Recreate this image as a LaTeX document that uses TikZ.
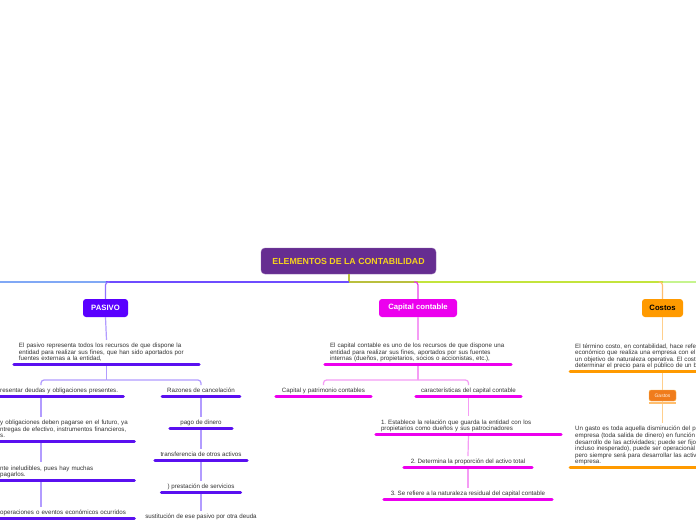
\documentclass[tikz,border=0pt]{standalone}
\usepackage{fontspec}
\setmainfont{Liberation Sans}
\usepackage{tikz}
\usetikzlibrary{calc}

\definecolor{rootfill}{HTML}{662D91}
\definecolor{rootink}{HTML}{F5D21E}
\definecolor{pasfill}{HTML}{5A00FF}
\definecolor{pasbar}{HTML}{5A10F0}
\definecolor{paslink}{HTML}{B29CFF}
\definecolor{pasdrop}{HTML}{9070FF}
\definecolor{capfill}{HTML}{EC00EE}
\definecolor{caplink}{HTML}{F59CF5}
\definecolor{capdrop}{HTML}{E83CE8}
\definecolor{cosfill}{HTML}{FF9A00}
\definecolor{coslink}{HTML}{FFCF8C}
\definecolor{cosdrop}{HTML}{FFBE6E}
\definecolor{gasfill}{HTML}{F07C1C}
\definecolor{trunkblue}{HTML}{80A8F5}
\definecolor{trunkviolet}{HTML}{6E4CFF}
\definecolor{trunkolive}{HTML}{B9BF3E}
\definecolor{trunklime}{HTML}{C3E43C}
\definecolor{trunkgreen}{HTML}{C6F48E}

\newcommand\itemfont{\fontsize{6.2}{6.6}\selectfont}
\frenchspacing

\begin{document}
\begin{tikzpicture}[x=1pt,y=-1pt,
  topic/.style={rectangle,rounded corners=3pt,inner sep=0pt,minimum height=18pt,
    font=\bfseries\fontsize{7.7}{8}\selectfont},
  item/.style={inner xsep=5pt,inner ysep=1pt,text=black!80,font=\itemfont,
    execute at begin node={\rule{0pt}{6.6pt}},execute at end node=\strut},
  note/.style={item,align=left},
  bar/.style={line width=3pt,line cap=round},
  link/.style={line width=1.2pt},
  trunk/.style={line width=2pt}]
\useasboundingbox (0,0) rectangle (696,520);
\fill[white] (0,0) rectangle (696,520);
\clip (0,0) rectangle (696,520);

% main topics
\node[topic,fill=rootfill,draw=rootfill!75!white,text=rootink,minimum width=175pt,minimum height=26pt,rounded corners=4pt,font=\bfseries\fontsize{8.8}{9}\selectfont] (root) at (348.5,261) {ELEMENTOS DE LA CONTABILIDAD};
\node[topic,fill=pasfill,text=white,minimum width=45pt] (pasivo) at (105.5,308) {PASIVO};
\node[topic,fill=capfill,text=white,minimum width=78pt] (capital) at (418,308) {Capital contable};
\node[topic,fill=cosfill,text=black,minimum width=41pt] (costos) at (662.5,308) {Costos};

% trunk
\coordinate (trunk) at (348.5,282);
\coordinate (trunkL) at (0,282);
\coordinate (trunkR) at (696,282);
\draw[trunk,trunkolive] (root.south) -- (trunk);
\draw[trunk,trunkblue] (trunkL) -- (trunk -| pasivo);
\draw[trunk,trunkviolet] (trunk -| pasivo) -- (trunk);
\draw[trunk,trunkolive] (trunk) -- (trunk -| capital);
\draw[trunk,trunklime] (trunk -| capital) -- (trunk -| costos);
\draw[trunk,trunkgreen] (trunk -| costos) -- (trunkR);
\draw[link,pasdrop,rounded corners=3pt] ($(trunk -| pasivo)+(4,0)$) -| (pasivo.north);
\draw[link,capdrop,rounded corners=3pt] ($(trunk -| capital)+(-4,0)$) -| (capital.north);
\draw[link,cosdrop,rounded corners=3pt] ($(trunk -| costos)+(-4,0)$) -| (costos.north);

% PASIVO
\node[note,text width=175pt,anchor=south] (pasdef) at (106.5,364) {El pasivo representa todos los recursos de que dispone la\\ entidad para realizar sus fines, que han sido aportados por\\ fuentes externas a la entidad,};
\coordinate (pasfork) at ($(pasdef.south)+(0,16)$);
\coordinate (pascol) at (41,0);
\node[note,text width=118pt,anchor=south west] (pasrep) at (-5,396) {resentar deudas y obligaciones presentes.};
\node[note,text width=129pt,anchor=south west] (pasfut) at (-5,441) {y obligaciones deben pagarse en el futuro, ya\\ ntregas de efectivo, instrumentos financieros,\\ s.};
\node[note,text width=129pt,anchor=south west] (pasinel) at (-5,480) {nte ineludibles, pues hay muchas\\ pagarlos.};
\node[note,text width=129pt,anchor=south west] (pasoper) at (-5,518) {operaciones o eventos económicos ocurridos};
\node[item,minimum width=76pt,anchor=south] (pasrazon) at (201,396) {Razones de cancelación};
\node[item,minimum width=62pt,anchor=south] (paspago) at (201,428) {pago de dinero};
\node[item,minimum width=92pt,anchor=south] (pastransf) at (201,460) {transferencia de otros activos};
\node[item,minimum width=79pt,anchor=south] (pasprest) at (201,492) {) prestación de servicios};
\node[item,minimum width=131pt,anchor=south] (passust) at (201,522) {sustitución de ese pasivo por otra deuda};

\draw[link,paslink] (pasivo.south) -- (pasdef.north);
\draw[link,paslink] (pasdef.south) -- (pasfork);
\draw[link,paslink,rounded corners=3pt] (pasfork) -| (pasrep.north -| pascol);
\draw[link,paslink,rounded corners=3pt] (pasfork) -| (pasrazon.north);
\draw[link,paslink] (pasrep.south -| pascol) -- (pasfut.north -| pascol);
\draw[link,paslink] (pasfut.south -| pascol) -- (pasinel.north -| pascol);
\draw[link,paslink] (pasinel.south -| pascol) -- (pasoper.north -| pascol);
\draw[link,paslink] (pasrazon.south) -- (paspago.north);
\draw[link,paslink] (paspago.south) -- (pastransf.north);
\draw[link,paslink] (pastransf.south) -- (pasprest.north);
\draw[link,paslink] (pasprest.south) -- (passust.north);

% Capital contable
\node[note,text width=176pt,anchor=south] (capdef) at (418,364) {El capital contable es uno de los recursos de que dispone una\\ entidad para realizar sus fines, aportados por sus fuentes\\ internas (dueños, propietarios, socios o accionistas, etc.),};
\coordinate (capfork) at ($(capdef.south)+(0,16)$);
\node[item,minimum width=95pt,anchor=south] (cappat) at (323.5,396) {Capital y patrimonio contables};
\node[item,minimum width=105pt,anchor=south] (capcar) at (468.5,396) {características del capital contable};
\node[note,text width=175pt,anchor=south] (capfirst) at (468.5,434) {1. Establece la relación que guarda la entidad con los\\ propietarios como dueños y sus patrocinadores};
\node[item,minimum width=128pt,anchor=south] (capsecond) at (468,467) {2. Determina la proporción del activo total};
\node[item,minimum width=168pt,anchor=south] (capthird) at (468,499) {3. Se refiere a la naturaleza residual del capital contable};

\draw[link,caplink] (capital.south) -- (capdef.north);
\draw[link,caplink] (capdef.south) -- (capfork);
\draw[link,caplink,rounded corners=3pt] (capfork) -| (cappat.north);
\draw[link,caplink,rounded corners=3pt] (capfork) -| (capcar.north);
\draw[link,caplink] (capcar.south) -- (capfirst.north);
\draw[link,caplink] (capfirst.south) -- (capsecond.north);
\draw[link,caplink] (capsecond.south) -- (capthird.north);

% Costos
\node[note,text width=200pt,anchor=south west] (cosdef) at (570,371) {El término costo, en contabilidad, hace refe\\ económico que realiza una empresa con el p\\ un objetivo de naturaleza operativa. El cost\\ determinar el precio para el público de un b};
\node[topic,fill=gasfill,draw=cosfill!70!white,text=white!90!orange,minimum width=27pt,minimum height=11pt,rounded corners=2pt,font=\fontsize{5}{5}\selectfont] (gastos) at (662.5,395.5) {Gastos};
\node[note,text width=200pt,anchor=south west] (gasdef) at (570,467) {Un gasto es toda aquella disminución del pa\\ empresa (toda salida de dinero) en función\\ desarrollo de las actividades; puede ser fijo\\ incluso inesperado), puede ser operacional\\ pero siempre será para desarrollar las activi\\ empresa.};

\draw[link,coslink] (costos.south) -- (costos.south |- cosdef.north);
\draw[link,coslink] (costos.south |- cosdef.south) -- (gastos.north);
\draw[link,coslink] (gastos.south) -- (gastos.south |- gasdef.north);
\draw[line width=2pt,cosdrop] ($(gastos.south west)+(0,1.5)$) -- ($(gastos.south east)+(0,1.5)$);

% underline bars
\foreach \n in {pasdef,pasrep,pasfut,pasinel,pasoper,pasrazon,paspago,pastransf,pasprest,passust}
  \draw[bar,pasbar] (\n.south west) -- (\n.south east);
\foreach \n in {capdef,cappat,capcar,capfirst,capsecond,capthird}
  \draw[bar,capfill] (\n.south west) -- (\n.south east);
\foreach \n in {cosdef,gasdef}
  \draw[bar,cosfill] (\n.south west) -- (\n.south east);
\end{tikzpicture}
\end{document}
